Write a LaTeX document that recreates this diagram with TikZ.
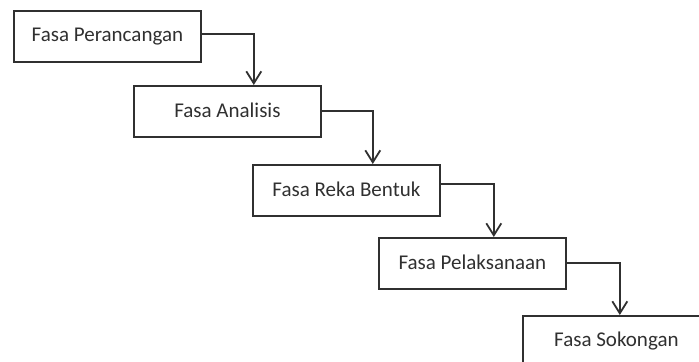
\documentclass[tikz,border=0pt]{standalone}
\usepackage{fontspec}
\setmainfont{Carlito}
\usetikzlibrary{positioning,arrows.meta}
\definecolor{inkgray}{RGB}{48,48,48}
\tikzset{
  phase/.style={draw=inkgray,line width=0.9pt,minimum width=93.5pt,minimum height=25.5pt,
    inner sep=0pt,text=inkgray,font=\fontsize{10.5}{12}\selectfont},
  flow/.style={draw=inkgray,line width=0.9pt,-{Straight Barb[length=6pt,width=7.5pt]}}
}

\begin{document}
\begin{tikzpicture}
  % Frame of the picture
  \useasboundingbox (0,0) rectangle (349.5pt,-181pt);
  \clip (0,0) rectangle (349.5pt,-181pt);

  % The five phases, stepping down to the right
  \node [phase,anchor=north west] (rancang) at (6.5pt,-5pt) {\raisebox{1pt}{Fasa Perancangan}};
  \node [phase,below right=37.5pt and 60pt of rancang.north west,anchor=north west] (analisis) {\raisebox{1pt}{Fasa Analisis}};
  \node [phase,below right=39.5pt and 59.5pt of analisis.north west,anchor=north west] (reka) {\raisebox{1pt}{Fasa Reka Bentuk}};
  \node [phase,below right=36.5pt and 63pt of reka.north west,anchor=north west] (laksana) {\raisebox{1pt}{Fasa Pelaksanaan}};
  \node [phase,below right=39pt and 72pt of laksana.north west,anchor=north west] (sokong) {\raisebox{1pt}{Fasa Sokongan}};

  % Connectors
  \draw [flow] ([yshift=1pt]rancang.east) -- ++(26pt,0) coordinate (t1) -- (t1 |- analisis.north);
  \draw [flow] (analisis.east) -- ++(25.5pt,0) coordinate (t2) -- (t2 |- reka.north);
  \draw [flow] ([yshift=3pt]reka.east) -- ++(26.5pt,0) coordinate (t3) -- (t3 |- laksana.north);
  \draw [flow] (laksana.east) -- ++(26.5pt,0) coordinate (t4) -- (t4 |- sokong.north);
\end{tikzpicture}
\end{document}
